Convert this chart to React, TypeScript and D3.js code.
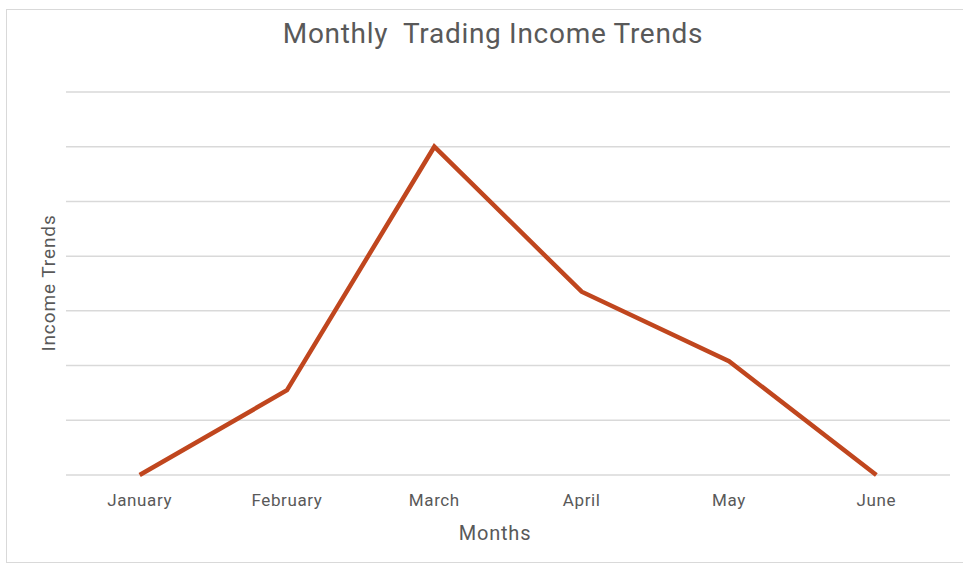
import React from "react";
import * as d3 from "d3";

const months = ["January", "February", "March", "April", "May", "June"];
const income = [0, 1.55, 6, 3.35, 2.08, 0];
const yTicks = [0, 1, 2, 3, 4, 5, 6, 7];

const W = 963;
const H = 566;
const left = 66;
const right = 950;
const top = 92;
const bottom = 475;

export default function App() {
  const x = d3.scalePoint<string>().domain(months).range([left, right]).padding(0.5);
  const y = d3.scaleLinear().domain([0, 7]).range([bottom, top]);
  const line = d3
    .line<number>()
    .x((_, i) => x(months[i]) as number)
    .y((d) => y(d));
  const font = "Roboto, 'Open Sans', sans-serif";
  return (
    <div style={{ position: "fixed", left: 0, top: 0 }}>
      <svg width={W} height={H} style={{ display: "block", background: "#fff" }}>
        <rect x={6.5} y={9.5} width={970} height={553} fill="#fff" stroke="#d9d9d9" />
        {yTicks.map((t) => (
          <line key={t} x1={left} x2={right} y1={y(t)} y2={y(t)} stroke="#d9d9d9" strokeWidth={1.5} />
        ))}
        <path d={line(income) || ""} fill="none" stroke="#C0461E" strokeWidth={4.5} strokeLinejoin="miter" />
        {months.map((m) => (
          <text key={m} x={x(m)} y={506} textAnchor="middle" fontFamily={font} fontSize={17} letterSpacing={0.6} fill="#595959">
            {m}
          </text>
        ))}
        <text x={495} y={540} textAnchor="middle" fontFamily={font} fontSize={20} letterSpacing={0.8} fill="#595959">
          Months
        </text>
        <text
          transform={`translate(${55},${283}) rotate(-90)`}
          textAnchor="middle"
          fontFamily={font}
          fontSize={19}
          letterSpacing={0.9}
          fill="#595959"
        >
          Income Trends
        </text>
        <text x={493} y={43} textAnchor="middle" fontFamily={font} fontSize={28} letterSpacing={0.7} fill="#595959" style={{ whiteSpace: "pre" }}>
          {"Monthly  Trading Income Trends"}
        </text>
      </svg>
    </div>
  );
}
